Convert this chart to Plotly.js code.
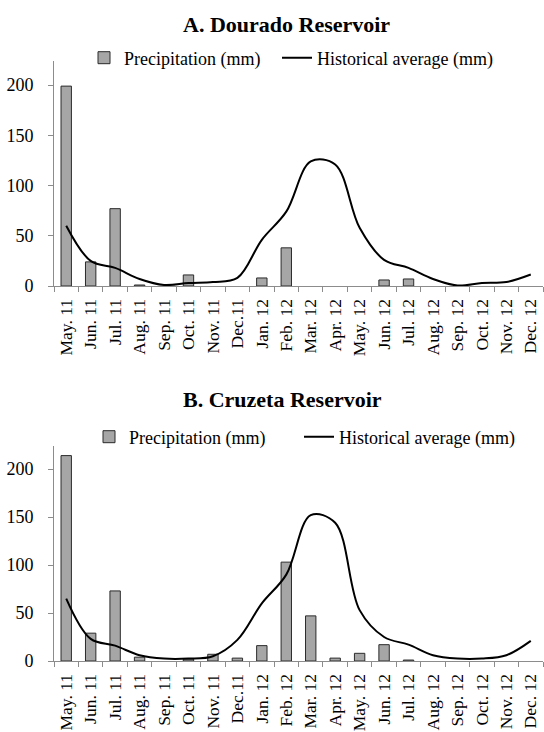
<!DOCTYPE html>
<html>
<head>
<meta charset="utf-8">
<script src="https://cdn.plot.ly/plotly-3.0.1.min.js"></script>
<style>html,body{margin:0;padding:0;background:#fff;}#chart{width:544px;height:732px;}</style>
</head>
<body>
<div id="chart"></div>
<script>
const months = ["May. 11","Jun. 11","Jul. 11","Aug. 11","Sep. 11","Oct. 11","Nov. 11","Dec.11","Jan. 12","Feb. 12","Mar. 12","Apr. 12","May. 12","Jun. 12","Jul. 12","Aug. 12","Sep. 12","Oct. 12","Nov. 12","Dec. 12"];
const yTicks = [0, 50, 100, 150, 200];
const douradoPrecip = [199,24,77,1,0,11,0,0,8,38,0,0,0,6,7,0,0,0,0,0];
const douradoHist = [60,25,18,7,1,3,4,8,46,74,124,121,58,26,18,7,0.5,3,4,11.5];
const cruzetaPrecip = [214,29,73,4,0,2,7,3,16,103,47,3,8,17,1,0,0,0,0,0];
const cruzetaHist = [65,23,16,6,2.5,2.5,5,22,60,90,152,144,53,25,17,6,2.5,2.5,6,21];

const FONT = "Liberation Serif, Times New Roman, serif";
const barStyle = {color:"#a6a6a6", line:{color:"#2b2b2b", width:1}};
const lineStyle = {color:"#000", width:2, shape:"spline", smoothing:1};
const noZero = arr => arr.map(v => v === 0 ? null : v);

const traces = [
  {type:"bar", x:months, y:noZero(douradoPrecip), name:"Precipitation (mm)", marker:barStyle, width:0.425, xaxis:"x", yaxis:"y", legend:"legend"},
  {type:"scatter", mode:"lines", x:months, y:douradoHist, name:"Historical average (mm)", line:lineStyle, xaxis:"x", yaxis:"y", legend:"legend2"},
  {type:"bar", x:months, y:noZero(cruzetaPrecip), name:"Precipitation (mm)", marker:barStyle, width:0.425, xaxis:"x2", yaxis:"y2", legend:"legend3"},
  {type:"scatter", mode:"lines", x:months, y:cruzetaHist, name:"Historical average (mm)", line:lineStyle, xaxis:"x2", yaxis:"y2", legend:"legend4"}
];

const H = 732, L = 54, PW = 489;
const fy = px => (H - px) / H;
const fx = px => (px - L) / PW;

const xax = (anchor) => ({
  anchor: anchor, domain:[0,1], type:"category", range:[-0.5,19.5],
  showline:true, linecolor:"#8c8c8c", linewidth:1, showgrid:false, zeroline:false,
  ticks:"outside", ticklen:5, tickcolor:"#8c8c8c", tickson:"boundaries",
  tickangle:-90, tickmode:"linear", dtick:1, ticklabelstandoff:5,
  tickfont:{family:FONT, size:17.5, color:"#000"}, fixedrange:true
});
const yax = (anchor, dom) => ({
  anchor: anchor, domain: dom, range:[0,224],
  showline:true, linecolor:"#8c8c8c", linewidth:1, showgrid:false, zeroline:false,
  ticks:"outside", ticklen:5, tickcolor:"#8c8c8c",
  tickmode:"array", tickvals:yTicks, ticktext:yTicks.map(String), ticklabelstandoff:11,
  tickfont:{family:FONT, size:18, color:"#000"}, fixedrange:true
});

const legendBase = {
  orientation:"h", xanchor:"left", yanchor:"middle",
  font:{family:FONT, size:18, color:"#000"}, bgcolor:"rgba(0,0,0,0)", borderwidth:0,
  traceorder:"normal"
};
const leg = (xpx, ypx) => Object.assign({}, legendBase, {x: fx(xpx), y: fy(ypx)});

const layout = {
  width:544, height:732,
  margin:{l:L, r:544-L-PW, t:0, b:0, pad:0, autoexpand:false},
  paper_bgcolor:"#fff", plot_bgcolor:"#fff",
  font:{family:FONT, color:"#000"},
  xaxis: xax("y"),
  yaxis: yax("x", [fy(286), fy(61)]),
  xaxis2: xax("y2"),
  yaxis2: yax("x2", [fy(661), fy(446)]),
  legend: leg(84, 58),
  legend2: leg(277, 58),
  legend3: leg(89, 437),
  legend4: leg(299, 437),
  annotations:[
    {text:"<b>A. Dourado Reservoir</b>", xref:"paper", yref:"paper", x:fx(286.5), y:fy(24), xanchor:"center", yanchor:"middle", showarrow:false, font:{family:FONT, size:22, color:"#000"}},
    {text:"<b>B. Cruzeta Reservoir</b>", xref:"paper", yref:"paper", x:fx(282.5), y:fy(400), xanchor:"center", yanchor:"middle", showarrow:false, font:{family:FONT, size:22, color:"#000"}}
  ],
  showlegend:true
};

Plotly.newPlot("chart", traces, layout, {displayModeBar:false, staticPlot:true});
</script>
</body>
</html>
